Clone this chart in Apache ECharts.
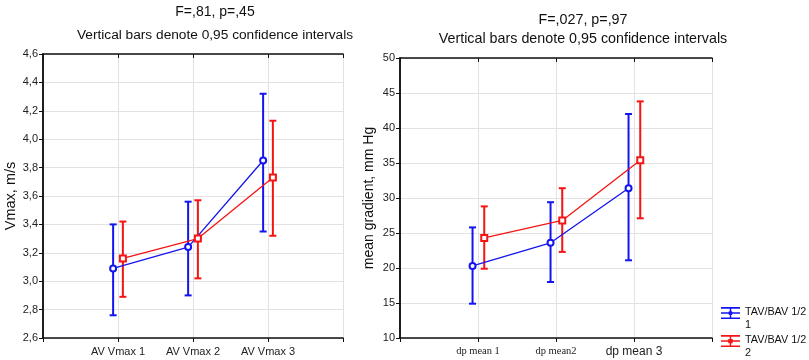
<!DOCTYPE html>
<html>
<head>
<meta charset="utf-8">
<script src="https://cdn.jsdelivr.net/npm/echarts@6/dist/echarts.min.js"></script>
<style>
  html, body { margin: 0; padding: 0; background: #fff; }
  #chart { width: 809px; height: 360px; }
</style>
</head>
<body>
<div id="chart"></div>
<script>
// categories
var vmaxLabels = ['AV Vmax 1', 'AV Vmax 2', 'AV Vmax 3'];
var dpLabels = ['dp mean 1', 'dp mean2', 'dp mean 3'];
var groupNames = ['TAV/BAV 1/2 1', 'TAV/BAV 1/2 2'];

// Vmax, m/s  (mean, lower / upper 95% CI)
var vmaxMean1 = [3.09, 3.24, 3.85];
var vmaxLow1 = [2.76, 2.90, 3.35];
var vmaxHigh1 = [3.40, 3.56, 4.32];
var vmaxMean2 = [3.16, 3.30, 3.73];
var vmaxLow2 = [2.89, 3.02, 3.32];
var vmaxHigh2 = [3.42, 3.57, 4.13];

// mean gradient, mm Hg
var dpMean1 = [20.3, 23.6, 31.4];
var dpLow1 = [14.9, 18.0, 21.1];
var dpHigh1 = [25.8, 29.4, 42.0];
var dpMean2 = [24.3, 26.8, 35.4];
var dpLow2 = [19.9, 22.3, 27.1];
var dpHigh2 = [28.8, 31.4, 43.8];

var blue = '#1414f0';
var red = '#f51414';
var font = 'Liberation Sans';

var dom = document.getElementById('chart');
var myChart = echarts.init(dom, null, { renderer: 'canvas' });

// small horizontal shift so the two groups don't overlap
function points(means, shift) {
  return means.map(function (v, i) { return [i + 1 + shift, v]; });
}
function bars(lows, highs, shift) {
  return lows.map(function (v, i) { return [i + 1 + shift, v, highs[i]]; });
}

function errorBar(params, api) {
  var x = api.value(0);
  var lo = api.coord([x, api.value(1)]);
  var hi = api.coord([x, api.value(2)]);
  var w = 3.5;
  var style = { stroke: api.visual('color'), lineWidth: 2 };
  return {
    type: 'group',
    children: [
      { type: 'line', shape: { x1: lo[0], y1: lo[1], x2: hi[0], y2: hi[1] }, style: style },
      { type: 'line', shape: { x1: lo[0] - w, y1: lo[1], x2: lo[0] + w, y2: lo[1] }, style: style },
      { type: 'line', shape: { x1: hi[0] - w, y1: hi[1], x2: hi[0] + w, y2: hi[1] }, style: style }
    ]
  };
}

function xAxes(gridIndex, labelFn) {
  return [
    {
      type: 'value', gridIndex: gridIndex, min: 0, max: 4, interval: 1, position: 'bottom',
      axisLine: { show: true, lineStyle: { color: '#111', width: 1.5 } },
      axisTick: { show: true, length: 4, lineStyle: { color: '#111' } },
      splitLine: { show: true, lineStyle: { color: '#e2e2e2' } },
      axisLabel: { margin: 8, formatter: labelFn, color: '#222', fontFamily: font, fontSize: 11,
        rich: {
          sr: { fontFamily: 'Liberation Serif', fontSize: 10.5, color: '#222' },
          ss: { fontFamily: font, fontSize: 12, color: '#222' }
        } }
    },
    {
      type: 'value', gridIndex: gridIndex, min: 0, max: 4, interval: 1, position: 'top',
      axisLine: { show: true, lineStyle: { color: '#111', width: 1.5 } },
      axisTick: { show: true, inside: true, length: 4, lineStyle: { color: '#111' } },
      splitLine: { show: false },
      axisLabel: { show: false }
    }
  ];
}

function yAxes(gridIndex, min, max, interval, name, fmt, nameSize) {
  return [
    {
      type: 'value', gridIndex: gridIndex, min: min, max: max, interval: interval, position: 'left',
      name: name, nameLocation: 'middle', nameGap: 24,
      nameTextStyle: { fontFamily: font, fontSize: nameSize, color: '#111' },
      axisLine: { show: true, lineStyle: { color: '#111', width: 1.5 } },
      axisTick: { show: true, length: 4, lineStyle: { color: '#111' } },
      splitLine: { show: true, lineStyle: { color: '#e2e2e2' } },
      axisLabel: { margin: 5, formatter: fmt, color: '#222', fontFamily: font, fontSize: 11 }
    },
    {
      type: 'value', gridIndex: gridIndex, min: min, max: max, interval: interval, position: 'right',
      axisLine: { show: true, lineStyle: { color: '#111', width: 1.5 } },
      axisTick: { show: true, inside: true, length: 4, lineStyle: { color: '#111' } },
      splitLine: { show: false },
      axisLabel: { show: false }
    }
  ];
}

var titleStyle = { fontFamily: font, fontWeight: 'normal', color: '#111' };

var option = {
  animation: false,
  backgroundColor: '#fff',
  title: [
    { text: 'F=,81, p=,45', left: 215, top: 5, textAlign: 'center', padding: 0,
      textStyle: Object.assign({ fontSize: 14 }, titleStyle) },
    { text: 'Vertical bars denote 0,95 confidence intervals', left: 215, top: 28, textAlign: 'center', padding: 0,
      textStyle: Object.assign({ fontSize: 13.7 }, titleStyle) },
    { text: 'F=,027, p=,97', left: 583, top: 13, textAlign: 'center', padding: 0,
      textStyle: Object.assign({ fontSize: 14.3 }, titleStyle) },
    { text: 'Vertical bars denote 0,95 confidence intervals', left: 583, top: 32, textAlign: 'center', padding: 0,
      textStyle: Object.assign({ fontSize: 14.3 }, titleStyle) }
  ],
  legend: {
    orient: 'vertical', left: 721, top: 306, padding: 0, itemGap: 2,
    itemWidth: 19, itemHeight: 26,
    data: [
      { name: groupNames[0], icon: 'path://M0,1H20V2.6H0Z M0,12H20V13.6H0Z M9.2,1H10.8V13.6H9.2Z M0,6.5H20V8H0Z M10,5A2.3,2.3,0,1,1,9.99,5Z M0,26H0.01V26.01H0Z', itemStyle: { color: blue } },
      { name: groupNames[1], icon: 'path://M0,1H20V2.6H0Z M0,12H20V13.6H0Z M9.2,1H10.8V13.6H9.2Z M0,6.5H20V8H0Z M7.7,5H12.3V9.6H7.7Z M0,26H0.01V26.01H0Z', itemStyle: { color: red } }
    ],
    formatter: function (name) { return name.replace(/ (\d)$/, '\n$1'); },
    textStyle: { fontFamily: font, fontSize: 10.8, lineHeight: 13, color: '#111' }
  },
  grid: [
    { left: 43, top: 54, width: 300, height: 284 },
    { left: 400, top: 58, width: 312, height: 280 }
  ],
  xAxis: xAxes(0, function (v) { return vmaxLabels[v - 1] || ''; })
    .concat(xAxes(1, function (v) {
      if (v === 1 || v === 2) return '{sr|' + dpLabels[v - 1] + '}';
      if (v === 3) return '{ss|' + dpLabels[v - 1] + '}';
      return '';
    })),
  yAxis: yAxes(0, 2.6, 4.6, 0.2, 'Vmax, m/s', function (v) { return v.toFixed(1).replace('.', ','); }, 14.5)
    .concat(yAxes(1, 10, 50, 5, 'mean gradient, mm Hg', function (v) { return String(v); }, 14)),
  series: [
    // left chart
    { type: 'custom', name: groupNames[0], xAxisIndex: 0, yAxisIndex: 0, renderItem: errorBar,
      itemStyle: { color: blue }, data: bars(vmaxLow1, vmaxHigh1, -0.065), z: 2 },
    { type: 'custom', name: groupNames[1], xAxisIndex: 0, yAxisIndex: 0, renderItem: errorBar,
      itemStyle: { color: red }, data: bars(vmaxLow2, vmaxHigh2, 0.065), z: 2 },
    { type: 'line', name: groupNames[0], xAxisIndex: 0, yAxisIndex: 0, data: points(vmaxMean1, -0.065),
      symbol: 'emptyCircle', symbolSize: 6, color: blue, lineStyle: { color: blue, width: 1.3 },
      itemStyle: { color: blue, borderWidth: 1.5 }, z: 3 },
    { type: 'line', name: groupNames[1], xAxisIndex: 0, yAxisIndex: 0, data: points(vmaxMean2, 0.065),
      symbol: 'emptyRect', symbolSize: 6, color: red, lineStyle: { color: red, width: 1.3 },
      itemStyle: { color: red, borderWidth: 1.5 }, z: 3 },
    // right chart
    { type: 'custom', name: groupNames[0], xAxisIndex: 2, yAxisIndex: 2, renderItem: errorBar,
      itemStyle: { color: blue }, data: bars(dpLow1, dpHigh1, -0.07), z: 2 },
    { type: 'custom', name: groupNames[1], xAxisIndex: 2, yAxisIndex: 2, renderItem: errorBar,
      itemStyle: { color: red }, data: bars(dpLow2, dpHigh2, 0.08), z: 2 },
    { type: 'line', name: groupNames[0], xAxisIndex: 2, yAxisIndex: 2, data: points(dpMean1, -0.07),
      symbol: 'emptyCircle', symbolSize: 6, color: blue, lineStyle: { color: blue, width: 1.3 },
      itemStyle: { color: blue, borderWidth: 1.5 }, z: 3 },
    { type: 'line', name: groupNames[1], xAxisIndex: 2, yAxisIndex: 2, data: points(dpMean2, 0.08),
      symbol: 'emptyRect', symbolSize: 6, color: red, lineStyle: { color: red, width: 1.3 },
      itemStyle: { color: red, borderWidth: 1.5 }, z: 3 }
  ]
};

if (option && typeof option === 'object') {
  myChart.setOption(option);
}

window.addEventListener('resize', myChart.resize);
</script>
</body>
</html>
